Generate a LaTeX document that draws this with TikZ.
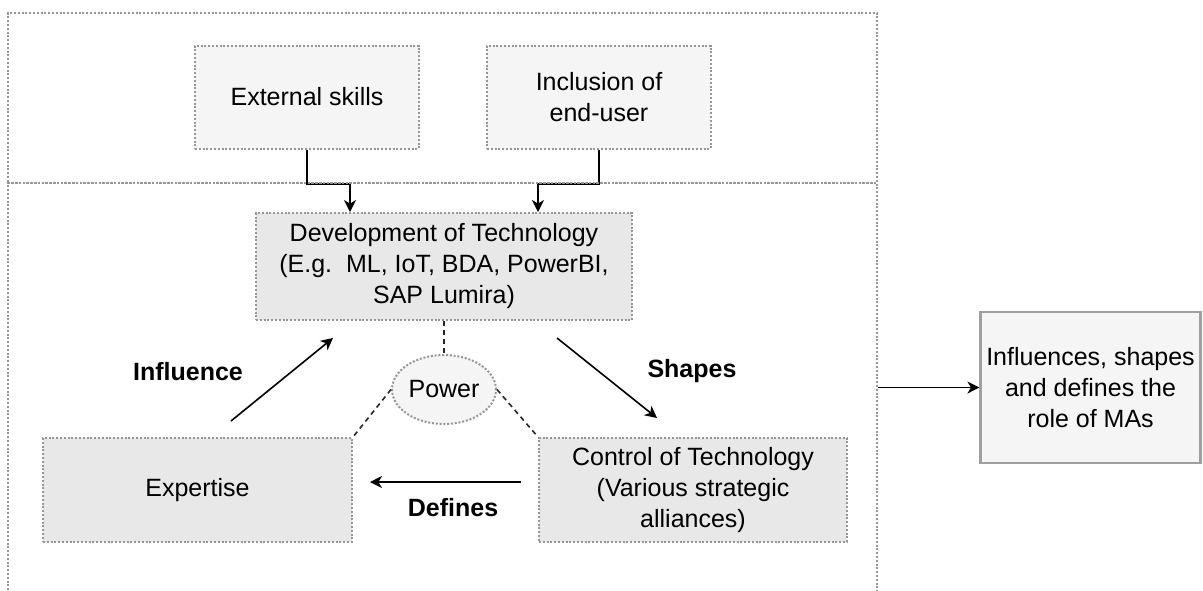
\documentclass[tikz,border=0pt]{standalone}
\usepackage{fontspec}
\setmainfont{Liberation Sans}
\usetikzlibrary{arrows.meta,positioning,shapes.geometric}
\definecolor{blockColor}{RGB}{232,232,232}
\definecolor{inputColor}{RGB}{245,245,245}
\definecolor{dotColor}{RGB}{150,150,150}
\definecolor{frameColor}{RGB}{160,160,160}
\tikzset{block/.style={draw=dotColor, line width=1pt, dash pattern=on 1pt off 0.9pt, fill=blockColor, align=center, inner sep=2pt, font=\fontsize{12.5pt}{15.5pt}\selectfont}}
\tikzset{inputblock/.style={block, fill=inputColor, minimum width=112pt, minimum height=51.5pt}}
\tikzset{zone/.style={draw=dotColor, line width=1pt, dash pattern=on 1pt off 0.9pt, inner sep=0pt, minimum width=434.5pt}}
\tikzset{flow/.style={-{Stealth[length=6pt,width=6pt,inset=1.8pt]}, line width=0.8pt}}
\tikzset{powerlink/.style={line width=0.8pt, dash pattern=on 2.5pt off 2pt, draw=black!85}}
\tikzset{edgelabel/.style={font=\bfseries\fontsize{12.5pt}{15pt}\selectfont}}

\begin{document}
\begin{tikzpicture}[x=0.5pt, y=-0.5pt]
\pgfdeclarelayer{foreground}
\pgfsetlayers{main,foreground}
\useasboundingbox (0,0) rectangle (1203,590);

% Nodes
\node (ext) [inputblock] at (307,97) {External skills};
\node (incl) [inputblock, right=33pt of ext] {Inclusion of\\ end-user};

\node (dev) [block, minimum width=188pt, minimum height=53.5pt] at (444,266.5) {Development of Technology\\ (E.g.\ \ ML, IoT, BDA, PowerBI,\\ SAP Lumira)};
\node (power) [block, ellipse, fill=inputColor, inner sep=0pt, minimum width=52pt, minimum height=34.5pt, below=16.5pt of dev] {Power};

\node (expertise) [block, minimum width=154.5pt, minimum height=52pt] at (197.5,490) {Expertise};
\node (control) [block, minimum width=154pt, minimum height=52pt, right=92.5pt of expertise] {Control of Technology\\ (Various strategic\\ alliances)};

\node (result) [block, solid, draw=frameColor, line width=1.1pt, fill=inputColor, minimum width=110pt, minimum height=75.5pt] at (1090.5,387.5) {Influences, shapes\\ and defines the\\ role of MAs};

\begin{pgfonlayer}{foreground}
\node (topzone) [zone, minimum height=85pt] at (442.5,98) {};
\node (mainzone) [zone, minimum height=218.5pt] at (442.5,401.5) {};
\end{pgfonlayer}

% Connectors
\draw [flow] (ext.south) |- ([xshift=-47pt]dev.north |- topzone.south) -- ([xshift=-47pt]dev.north);
\draw [flow] (incl.south) |- ([xshift=47pt]dev.north |- topzone.south) -- ([xshift=47pt]dev.north);

\draw [powerlink] (dev.south) -- (power.north);
\draw [powerlink] (power.west) -- (expertise.north east);
\draw [powerlink] (power.east) -- (control.north west);

\draw [flow] ([xshift=16.75pt,yshift=8pt]expertise.north) -- node[edgelabel, xshift=-47pt, yshift=3.75pt] {Influence} ([xshift=39pt,yshift=-8.5pt]dev.south west);
\draw [flow] ([xshift=-38pt,yshift=-8.5pt]dev.south east) -- node[edgelabel, xshift=42.5pt, yshift=3.25pt] {Shapes} ([xshift=-18pt,yshift=9.5pt]control.north);
\draw [flow] ([xshift=-8.5pt,yshift=4pt]control.west) -- node[edgelabel, xshift=3.75pt, yshift=-13pt] {Defines} ([xshift=8.5pt,yshift=4pt]expertise.east);

\draw [flow] (mainzone.east |- result.west) -- (result.west);

\end{tikzpicture}
\end{document}
